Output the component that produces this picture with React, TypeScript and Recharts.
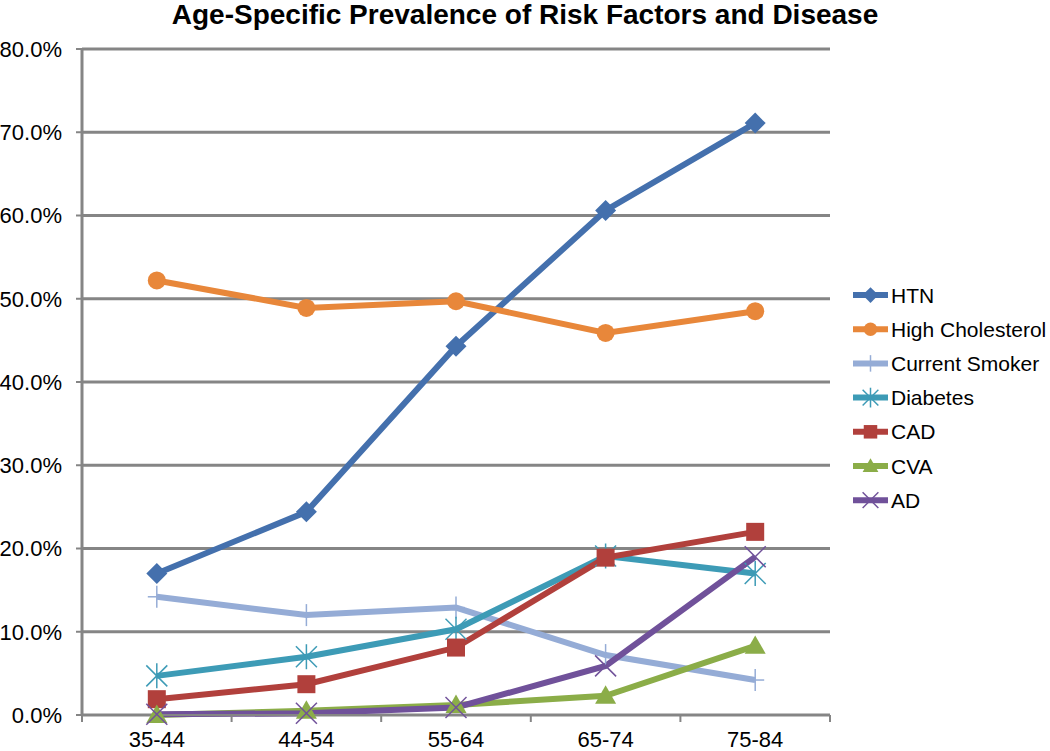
import React from 'react';
import { CartesianGrid, Line, LineChart, XAxis, YAxis } from 'recharts';

const ageGroups = ['35-44', '44-54', '55-64', '65-74', '75-84'];
const htn = [17.0, 24.4, 44.3, 60.6, 71.1];
const highCholesterol = [52.2, 48.9, 49.7, 45.9, 48.5];
const currentSmoker = [14.2, 12.0, 12.9, 7.2, 4.2];
const diabetes = [4.7, 7.0, 10.3, 19.1, 17.0];
const cad = [1.9, 3.7, 8.1, 18.9, 22.0];
const cva = [0.0, 0.5, 1.2, 2.3, 8.3];
const ad = [0.1, 0.2, 0.9, 5.9, 19.0];
const yTicks = [0, 10, 20, 30, 40, 50, 60, 70, 80];

const FONT = '"Liberation Sans", Arial, sans-serif';
const GRID = '#858585';
const W = 1050;
const H = 751;
const LEFT = 82;
const RIGHT = 220;
const plotWidth = W - LEFT - RIGHT;
const halfStep = plotWidth / ageGroups.length / 2;

type Shape = 'diamond' | 'circle' | 'plus' | 'star' | 'square' | 'triangle' | 'x';

const series: { key: string; name: string; color: string; shape: Shape; values: number[] }[] = [
    { key: 'htn', name: 'HTN', color: '#4470AD', shape: 'diamond', values: htn },
    { key: 'chol', name: 'High Cholesterol', color: '#E8873A', shape: 'circle', values: highCholesterol },
    { key: 'smoker', name: 'Current Smoker', color: '#95ACD6', shape: 'plus', values: currentSmoker },
    { key: 'diab', name: 'Diabetes', color: '#3D9BB6', shape: 'star', values: diabetes },
    { key: 'cad', name: 'CAD', color: '#B1403C', shape: 'square', values: cad },
    { key: 'cva', name: 'CVA', color: '#8BAD48', shape: 'triangle', values: cva },
    { key: 'ad', name: 'AD', color: '#70519A', shape: 'x', values: ad },
];

const data = ageGroups.map((age, i) => {
    const row: Record<string, string | number> = { age };
    series.forEach((s) => (row[s.key] = s.values[i]));
    return row;
});

const Marker = ({ shape, color, cx, cy, k = 1 }: { shape: Shape; color: string; cx: number; cy: number; k?: number }) => {
    const s = 10.5 * k;
    switch (shape) {
        case 'diamond':
            return <polygon points={`${cx},${cy - s} ${cx + s},${cy} ${cx},${cy + s} ${cx - s},${cy}`} fill={color} />;
        case 'circle':
            return <circle cx={cx} cy={cy} r={9 * k} fill={color} />;
        case 'square':
            return <rect x={cx - 9 * k} y={cy - 9 * k} width={18 * k} height={18 * k} fill={color} />;
        case 'triangle':
            return <polygon points={`${cx},${cy - s} ${cx + s},${cy + s * 0.75} ${cx - s},${cy + s * 0.75}`} fill={color} />;
        case 'plus':
            return (
                <g stroke={color} strokeWidth={1.5}>
                    <line x1={cx} y1={cy - 11 * k} x2={cx} y2={cy + 11 * k} />
                    <line x1={cx - 9 * k} y1={cy} x2={cx + 9 * k} y2={cy} />
                </g>
            );
        case 'star':
            return (
                <g stroke={color} strokeWidth={1.5}>
                    <line x1={cx - s} y1={cy - s} x2={cx + s} y2={cy + s} />
                    <line x1={cx - s} y1={cy + s} x2={cx + s} y2={cy - s} />
                    <line x1={cx} y1={cy - s - 2} x2={cx} y2={cy + s + 2} />
                </g>
            );
        default:
            return (
                <g stroke={color} strokeWidth={1.5}>
                    <line x1={cx - s} y1={cy - s} x2={cx + s} y2={cy + s} />
                    <line x1={cx - s} y1={cy + s} x2={cx + s} y2={cy - s} />
                </g>
            );
    }
};

const XTick = (props: any) => {
    const { x, y, payload, index } = props;
    return (
        <g>
            <line x1={x - halfStep} y1={y} x2={x - halfStep} y2={y + 7} stroke={GRID} strokeWidth={2} />
            {index === ageGroups.length - 1 && (
                <line x1={x + halfStep} y1={y} x2={x + halfStep} y2={y + 7} stroke={GRID} strokeWidth={2} />
            )}
            <text x={x} y={y + 32} textAnchor="middle" fontSize={22} fontFamily={FONT} fill="#000">
                {payload.value}
            </text>
        </g>
    );
};

const App = () => {
    return (
        <div style={{ position: 'absolute', left: 0, top: 0, width: W, height: H, background: '#fff' }}>
            <div
                style={{
                    position: 'absolute',
                    top: 0,
                    left: 0,
                    width: W,
                    textAlign: 'center',
                    fontFamily: FONT,
                    fontWeight: 'bold',
                    fontSize: 28,
                    lineHeight: '30px',
                }}
            >
                Age-Specific Prevalence of Risk Factors and Disease
            </div>
            <LineChart width={W} height={H} data={data} margin={{ top: 49, right: RIGHT, bottom: 0, left: 0 }}>
                <CartesianGrid vertical={false} stroke={GRID} strokeWidth={3} />
                <XAxis
                    dataKey="age"
                    height={36}
                    padding={{ left: halfStep, right: halfStep }}
                    tickLine={false}
                    tickSize={0}
                    tickMargin={0}
                    axisLine={{ stroke: GRID, strokeWidth: 2 }}
                    tick={<XTick />}
                    interval={0}
                />
                <YAxis
                    width={LEFT}
                    domain={[0, 80]}
                    ticks={yTicks}
                    tickFormatter={(v: number) => `${v.toFixed(1)}%`}
                    tick={{ fontSize: 22, fontFamily: FONT, fill: '#000' }}
                    tickSize={6}
                    tickMargin={14}
                    tickLine={{ stroke: GRID, strokeWidth: 2 }}
                    axisLine={{ stroke: GRID, strokeWidth: 3 }}
                />
                {series.map((s) => (
                    <Line
                        key={s.key}
                        dataKey={s.key}
                        name={s.name}
                        stroke={s.color}
                        strokeWidth={6}
                        isAnimationActive={false}
                        dot={(p: any) => <Marker key={`${s.key}-${p.index}`} shape={s.shape} color={s.color} cx={p.cx} cy={p.cy} />}
                        activeDot={false}
                    />
                ))}
            </LineChart>
            <svg style={{ position: 'absolute', left: 840, top: 270 }} width={210} height={250}>
                {series.map((s, i) => {
                    const cy = 25 + i * 34.2;
                    return (
                        <g key={s.key}>
                            <line x1={13} y1={cy} x2={48} y2={cy} stroke={s.color} strokeWidth={6} />
                            <Marker shape={s.shape} color={s.color} cx={30.5} cy={cy} k={0.75} />
                            <text x={51} y={cy + 7.5} fontSize={21} fontFamily={FONT} fill="#000">
                                {s.name}
                            </text>
                        </g>
                    );
                })}
            </svg>
        </div>
    );
};

export default App;
